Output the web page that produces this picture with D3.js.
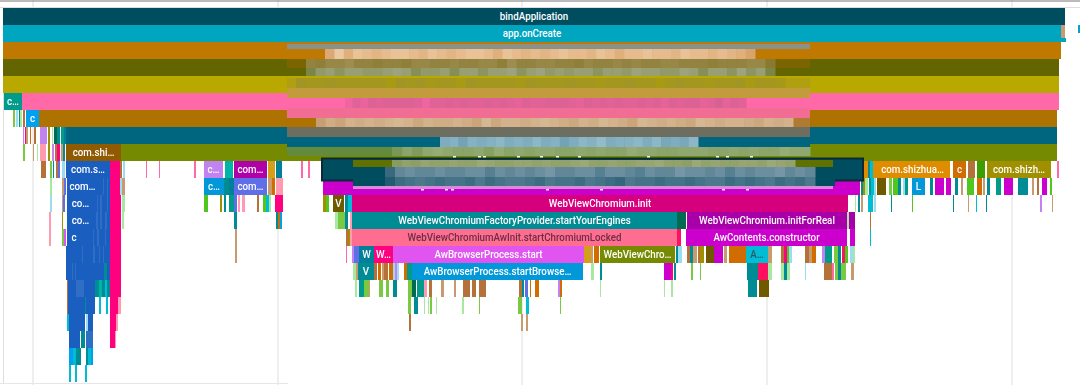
<!DOCTYPE html>
<html>
<head>
<meta charset="utf-8">
<script src="https://cdnjs.cloudflare.com/ajax/libs/d3/7.8.5/d3.min.js"></script>
<style>
html,body{margin:0;padding:0;background:#fff;overflow:hidden}
#chart{display:block;filter:blur(.45px)}
text{font-family:Roboto,sans-serif;font-size:11.5px;font-weight:500;fill:#fff;text-anchor:middle}
</style>
</head>
<body>
<svg id="chart" width="1080" height="385"></svg>
<script>
// trace time in ms on screen, [depth, start, duration, category, label]
var gridTicks = [33,278,522,767,1012];

var namedFrames = [
	[0,3,1062,"bind","bindApplication"],
	[1,3,1058,"create","app.onCreate"],
	[2,3,1058,"orange",""],
	[3,3,1056,"olive",""],
	[4,3,1056,"mustard",""],
	[5,4,18,"jade","c…"],
	[5,22,1037,"hotpink",""],
	[6,26,13,"sky","c"],
	[6,39,1018,"brown",""],
	[7,66,991,"petrol",""],
	[8,66,55,"umber","com.shi…"],
	[8,121,936,"moss",""],
	[9,66,44,"blue","com.s…"],
	[9,204,19,"lilac","c…"],
	[9,234,33,"plum","com…"],
	[9,875,75,"amber","com.shizhua…"],
	[9,953,13,"rust","c"],
	[9,987,64,"khaki","com.shizh…"],
	[10,67,31,"blue","com…"],
	[10,204,20,"azure","c…"],
	[10,234,33,"indigo","com…"],
	[10,323,537,"magenta",""],
	[10,912,13,"azure","L"],
	[11,67,27,"blue","co…"],
	[11,333,11,"bark","V"],
	[11,352,496,"ruby","WebViewChromium.init"],
	[12,67,27,"blue","co…"],
	[12,352,325,"sea","WebViewChromiumFactoryProvider.startYourEngines"],
	[12,687,160,"purple","WebViewChromium.initForReal"],
	[13,67,14,"blue","c"],
	[13,352,325,"salmon","WebViewChromiumAwInit.startChromiumLocked"],
	[13,686,161,"magenta","AwContents.constructor"],
	[14,359,15,"ocean","W"],
	[14,374,19,"rose","W…"],
	[14,393,191,"violet","AwBrowserProcess.start"],
	[14,600,75,"moss","WebViewChro…"],
	[14,746,22,"cyan","A…"],
	[15,358,16,"sea","V"],
	[15,412,171,"azure","AwBrowserProcess.startBrowse…"]
];

var leftSlices = [
	[6,13,2,"leaf"],[6,16,2,"ice"],[6,19,1,"sea"],[6,20,2,"mint"],[6,23,2,"tan"],
	[7,23,1,"lilac"],[7,25,1,"rose"],[7,26,2,"wheat"],[7,30,1,"rust"],[7,34,2,"tan"],[7,40,7,"lilac"],[7,48,2,"khaki"],[7,52,1,"mint"],[7,54,3,"pine"],[7,57,3,"sea"],[7,61,3,"jade"],[7,64,2,"ocean"],
	[8,23,2,"leaf"],[8,33,1,"wheat"],[8,37,1,"mint"],[8,40,6,"blush"],[8,48,2,"khaki"],[8,52,2,"lilac"],[8,55,2,"tan"],[8,57,3,"rose"],[8,61,2,"wheat"],[8,63,2,"sea"],
	[9,41,5,"tan"],[9,50,2,"leaf"],[9,53,1,"sea"],[9,56,2,"tan"],[9,58,2,"indigo"],[9,62,3,"ice"],
	[9,110,10,"rose"],[9,120,2,"tan"],[9,123,2,"ice"],[9,146,1,"hotpink"],[9,159,1,"hotpink"],[9,194,2,"hotpink"],
	[9,225,8,"teal"],[9,268,7,"gold"],[9,276,6,"ocean"],[9,301,2,"hotpink"],[9,308,2,"hotpink"],
	[10,50,2,"mint"],[10,62,2,"wheat"],[10,64,2,"indigo"],[10,98,12,"blue"],[10,103,1,"steel"],[10,107,1,"steel"],
	[10,110,10,"rose"],[10,120,2,"ice"],[10,122,3,"wheat"],[10,224,5,"sea"],[10,229,5,"ocean"],[10,268,4,"wheat"],[10,272,3,"rust"],[10,276,7,"blush"],
	[11,50,2,"ice"],[11,62,1,"wheat"],[11,63,2,"indigo"],[11,94,16,"blue"],[11,97,1,"steel"],[11,100,2,"steel"],[11,107,1,"steel"],
	[11,110,11,"rose"],[11,122,3,"mint"],[11,204,4,"grass"],[11,220,2,"khaki"],[11,224,2,"sea"],[11,229,5,"jade"],[11,234,3,"indigo"],[11,238,2,"blush"],[11,242,3,"blush"],[11,257,2,"tan"],[11,263,3,"grass"],[11,266,3,"cyan"],[11,269,2,"mint"],[11,275,8,"rose"],
	[12,49,2,"blush"],[12,62,1,"khaki"],[12,94,16,"blue"],[12,96,2,"steel"],[12,100,2,"steel"],[12,105,2,"steel"],
	[12,110,11,"rose"],[12,122,2,"mint"],[12,234,3,"sea"],[12,276,2,"sea"],[12,278,2,"rust"],[12,280,2,"sky"],
	[13,49,2,"blush"],[13,62,2,"leaf"],[13,64,2,"violet"],[13,81,29,"blue"],[13,93,1,"steel"],[13,97,2,"steel"],[13,105,1,"steel"],
	[13,110,11,"rose"],[13,235,2,"wheat"],
	[14,66,44,"blue"],[14,82,1,"steel"],[14,93,2,"steel"],[14,99,1,"steel"],[14,103,1,"steel"],[14,110,11,"rose"],[14,235,2,"wheat"],
	[15,66,44,"blue"],[15,72,1,"steel"],[15,75,1,"steel"],[15,104,3,"sea"],[15,110,11,"rose"],
	[16,67,1,"tan"],[16,68,27,"blue"],[16,76,8,"steel"],[16,95,4,"sea"],[16,99,3,"teal"],[16,102,3,"sea"],[16,105,2,"cyan"],[16,107,3,"sea"],[16,110,11,"rose"],
	[17,67,1,"tan"],[17,68,27,"blue"],[17,85,1,"sea"],[17,99,2,"cyan"],[17,106,2,"cyan"],[17,110,11,"rose"],[17,118,3,"blush"],
	[18,67,2,"cyan"],[18,69,16,"blue"],[18,86,2,"ice"],[18,88,5,"blue"],[18,110,6,"rose"],[18,116,2,"blush"],
	[19,69,11,"blue"],[19,81,4,"sea"],[19,86,7,"steel"],[19,110,5,"rose"],[19,115,1,"blush"],
	[20,69,4,"sky"],[20,73,3,"cyan"],[20,76,5,"sea"],[20,86,2,"sea"],[20,88,3,"cyan"],[20,91,2,"sky"],
	[21,69,2,"cyan"],[21,75,2,"cyan"],[21,85,2,"cyan"]
];

var middleSlices = [
	[11,323,3,"khaki"],[11,326,3,"grass"],[11,345,3,"sea"],[11,348,4,"cyan"],
	[12,335,3,"mint"],[12,338,7,"leaf"],[12,345,3,"sea"],[12,350,2,"blush"],[12,677,9,"pine"],[12,847,2,"mint"],[12,849,6,"purple"],
	[13,346,2,"tan"],[13,348,2,"khaki"],[13,350,2,"blush"],[13,677,4,"crimson"],[13,850,5,"magenta"],
	[14,346,1,"hotpink"],[14,352,2,"lilac"],[14,354,5,"indigo"],[14,584,7,"gold"],[14,591,2,"wheat"],[14,594,5,"rust"],[14,676,2,"sea"],[14,678,4,"ice"],
	[14,687,3,"tan"],[14,690,3,"sea"],[14,693,4,"wheat"],[14,698,2,"tan"],[14,700,4,"khaki"],[14,706,8,"bark"],[14,714,9,"magenta"],[14,724,3,"wheat"],[14,729,17,"rust"],[14,768,4,"wheat"],
	[14,781,3,"tan"],[14,784,3,"rose"],[14,787,2,"grass"],[14,789,3,"ice"],[14,805,4,"tan"],[14,809,3,"wheat"],[14,812,4,"rust"],[14,822,3,"lilac"],[14,825,7,"jade"],[14,834,4,"leaf"],[14,838,3,"sea"],[14,842,3,"crimson"],[14,845,3,"grass"],[14,850,3,"ice"],[14,853,2,"mint"],
	[15,353,3,"mint"],[15,356,2,"wheat"],[15,374,3,"tan"],[15,378,3,"rust"],[15,382,2,"wheat"],[15,384,4,"tan"],[15,389,4,"rust"],[15,393,2,"ice"],[15,395,2,"lilac"],[15,397,2,"ice"],[15,404,3,"rust"],[15,407,5,"jade"],[15,591,3,"mint"],[15,600,2,"sea"],[15,664,7,"magenta"],[15,671,2,"rose"],[15,674,2,"sea"],
	[15,691,2,"leaf"],[15,700,1,"leaf"],[15,747,11,"sea"],[15,758,10,"crimson"],[15,768,4,"mint"],[15,781,3,"mint"],[15,784,3,"sea"],[15,787,3,"mint"],[15,805,1,"ice"],[15,824,8,"tan"],[15,832,2,"hotpink"],[15,835,3,"leaf"],[15,838,3,"sea"],[15,841,5,"leaf"],[15,851,3,"wheat"],
	[16,355,2,"mint"],[16,359,5,"jade"],[16,364,5,"leaf"],[16,369,1,"wheat"],[16,379,4,"leaf"],[16,386,3,"leaf"],[16,393,4,"sea"],[16,408,4,"leaf"],[16,412,4,"pine"],[16,417,7,"jade"],[16,424,3,"blush"],[16,429,3,"tan"],[16,441,3,"wheat"],[16,454,2,"wheat"],[16,463,7,"tan"],[16,472,4,"tan"],[16,479,7,"tan"],[16,519,3,"tan"],[16,522,2,"sea"],[16,525,3,"indigo"],[16,530,1,"rust"],[16,535,4,"rust"],[16,558,2,"lilac"],[16,560,2,"rust"],[16,600,1,"mint"],[16,664,1,"mint"],[16,671,2,"mint"],[16,748,9,"sea"],[16,759,10,"bark"],
	[17,408,3,"leaf"],[17,414,4,"sea"],[17,424,1,"mint"],[17,428,1,"mint"],[17,430,2,"leaf"],[17,436,1,"mint"],[17,462,2,"mint"],[17,479,1,"leaf"],[17,518,4,"leaf"],[17,526,3,"cyan"],[17,560,1,"leaf"],
	[18,409,2,"tan"],[18,521,2,"wheat"],[18,526,2,"wheat"]
];

var rightSlices = [
	[1,1061,4,"wheat"],
	[9,864,4,"amber"],[9,868,2,"sea"],[9,870,3,"cyan"],[9,873,2,"amber"],[9,968,7,"tan"],[9,977,8,"lime"],[9,1057,2,"hotpink"],
	[10,861,2,"sea"],[10,863,2,"khaki"],[10,865,3,"mint"],[10,869,2,"jade"],[10,871,3,"cyan"],[10,874,2,"ice"],[10,877,9,"bark"],[10,889,3,"leaf"],[10,893,5,"grass"],[10,898,3,"sea"],[10,903,2,"ice"],[10,905,3,"jade"],[10,930,3,"sea"],[10,935,9,"magenta"],[10,946,5,"magenta"],[10,955,3,"sea"],[10,961,2,"wheat"],[10,967,7,"grass"],[10,977,5,"rust"],[10,983,2,"wheat"],[10,987,3,"sea"],[10,996,5,"jade"],[10,1004,9,"magenta"],[10,1018,10,"sea"],[10,1032,2,"wheat"],[10,1037,2,"tan"],[10,1042,5,"magenta"],[10,1050,2,"grass"],
	[11,855,1,"mint"],[11,858,2,"sea"],[11,861,2,"wheat"],[11,868,5,"cyan"],[11,874,2,"ice"],[11,891,1,"sea"],[11,912,1,"grass"],[11,953,1,"sea"],[11,968,1,"wheat"],[11,976,1,"cyan"],[11,986,1,"sea"],[11,1040,2,"lilac"],[11,1052,1,"wheat"],
	[12,870,1,"tan"],[13,870,1,"cyan"]
];

// censored strips, one tone digit per mosaic cell (0 dark end, 9 light end)
var peachTones = [4,9,5,8,7,6,7,8,8,7,6,8,7,6,7,8,8,7,5,8,7,6,7,6,7,8,7,7,6,8,7,5,7,7,8,7,7,6,8,7,7,6,7,6,5,3];
var brownOliveTones = [3,2,4,4,5,3,3,2,3,3,2,4,4,3,3,4,3,3,4,4,2,5,3,3,4,4,3,3,2,4,3,3,4,3,4,3,3,4,4,3,3,3,2,3,3,3,4,4,1];
var sageTones = [1,5,6,4,6,6,5,5,6,7,6,3,5,5,6,3,6,6,4,6,6,7,4,6,7,5,6,5,6,6,4,6,6,5,7,6,6,5,5,7,6,3,6,6,4,7,4,6,1];
var mustardTones = [6,5,5,6,5,5,5,5,5,3,6,5,6,4,5,5,3,6,5,5,5,5,4,6,5,5,5,6,5,5,4,5,5,6,5,5,3,5,6,5,5,4,5,5,6,3,5,5,4];
var roseTones = [3,6,4,7,6,7,7,7,7,6,3,6,6,7,6,7,6,6,7,6,7,6,5,7,6,6,7,7,7,6,5,7,6,7,6,7,6,6,7,6,7,5,7,6,7,7,5,6,8,5,7,6];
var tanTones = [3,6,4,7,6,7,6,7,8,7,5,7,6,6,7,6,4,8,5,7,7,6,7,8,7,6,5,7,6,8,7,6,4,8,7,6,7,6,5,8,7,6,7,7,6,5,7,6,7];
var blueTones = [5,6,3,6,5,6,7,5,6,5,7,5,6,3,5,7,6,8,5,6,6,7,5,7,4,5,4,7];
var greenTones = [2,5,3,6,7,6,5,5,6,4,7,5,6,5,6,6,5,5,6,5,6,5,5,7,6,6,5,5,6,6,6,5,5,6,5,6,5,5,7,6,6];
var capTones = [3,5,4,6,5,5,6,5,5,7,6,5,5,6,6,5,6,5,5,6,7,5,5,6,5,5,6,6,7,5,5,4,7,5,6,5,5,6,6,5,7,6,5];
var slateTones = [1,5,6,5,5,6,5,5,6,6,4,6,5,6,5,6,7,5,5,6,6,4,6,6,5,4,6,5,5,7,6,6,5,6,4,6,5,6,6,7,5,6,5];
var deepTones = [1,4,5,6,5,4,5,5,4,6,4,5,6,6,5,4,6,5,5,4,6,5,4,3,6,5,5,4,5,5,4,5,6,6,4,5,4,5,6,4,5,4,6];
var inkTickStarts = [453,478,483,517,540,556,578,647,716,726,750];
var magentaTickStarts = [421,445,451,546,600,722,746];

var categories = ["bind","create","orange","olive","mustard","hotpink","brown","petrol","moss","jade","sky","umber","blue","rose","lilac","teal","plum","gold","ocean","amber","rust","tan","lime","khaki","azure","indigo","magenta","ruby","sea","salmon","violet","purple","pine","bark","cyan","leaf","mint","ice","blush","steel","crimson","wheat","grass"];
var color = d3.scaleOrdinal(categories,["#004d5f","#00a5bf","#bf7800","#636600","#b8a800","#ff69a8","#ae7200","#006680","#758a00","#009b8a","#00a0f0","#8f5a00","#1a5fc0","#ff007f","#c183f0","#00b5a8","#b000a8","#d4a017","#007f99","#df8c00","#d06c00","#b5713a","#3c9f00","#a09000","#0098d8","#5f6fe8","#cc00cc","#d6007f","#008c95","#ff6e91","#e055f0","#a800a8","#006b50","#6f5a00","#00bcd4","#7ac943","#a8e8a0","#9adcf0","#ff9ab0","#2f6ec4","#ff1060","#c89a70","#4fc71f"]);

var svg = d3.select("#chart");
var x = d3.scaleLinear().domain([0,1080]).range([0,1080]);
var rowH = 17;
var y = d3.scaleLinear().domain([0,22]).range([8,8+22*rowH]);

// grid and ruler
svg.append("g").selectAll("line").data(gridTicks).join("line")
	.attr("x1",x).attr("x2",x).attr("y1",0).attr("y2",385)
	.attr("stroke","#dcdee2");
svg.append("line").attr("x1",3.5).attr("x2",3.5).attr("y1",8).attr("y2",383).attr("stroke","#dcdee2");
svg.append("line").attr("x1",0).attr("x2",1080).attr("y1",1).attr("y2",1).attr("stroke","#777");
svg.append("line").attr("x1",0).attr("x2",1080).attr("y1",7.5).attr("y2",7.5).attr("stroke","#dcdee2");
svg.append("line").attr("x1",0).attr("x2",288).attr("y1",383.5).attr("y2",383.5).attr("stroke","#e6e6e8");

function drawSlices(rows){
	svg.append("g").selectAll("rect").data(rows).join("rect")
		.attr("x",function(d){return x(d[1])})
		.attr("y",function(d){return y(d[0])})
		.attr("width",function(d){return x(d[1]+d[2])-x(d[1])})
		.attr("height",rowH)
		.attr("fill",function(d){return color(d[3])});
}
drawSlices(namedFrames);
drawSlices(leftSlices);
drawSlices(middleSlices);
drawSlices(rightSlices);

// shoulder of app.onCreate and the next thread peeking in at the right edge
svg.append("rect").attr("x",1061).attr("y",38).attr("width",5).attr("height",4).attr("fill","#00a5bf");
svg.append("rect").attr("x",1078).attr("y",25).attr("width",2).attr("height",8).attr("fill","#00a5bf");

// selected frame outline
svg.append("rect").attr("x",322).attr("y",y(9)-2.5).attr("width",541).attr("height",22)
	.attr("fill","#004d5f").attr("stroke","#0b2a35").attr("stroke-width",2);

// flat parts of the censored strips
var flatBands = [
	[287,810,44,49,"#8b9188"],[287,325,49,59,"#bf7800"],[755,810,49,59,"#bf7800"],
	[287,810,59,68,"#7a6500"],[287,810,68,76,"#636600"],[287,810,78,88,"#b09f10"],[287,810,88,98,"#c29c3c"],
	[287,810,98,108,"#ff69a8"],[287,810,108,118,"#f26d93"],[287,316,118,127,"#ae7200"],[793,810,118,127,"#b07a30"],
	[287,810,127,137,"#6e6e60"],[287,810,137,147,"#006680"],[287,810,147,156,"#648a3c"],
	[353,833,160,167,"#5f7200"],[353,835,167,186,"#004d5f"],[353,833,186,189,"#d78ad8"]
];
svg.append("g").selectAll("rect").data(flatBands).join("rect")
	.attr("x",function(d){return d[0]}).attr("y",function(d){return d[2]})
	.attr("width",function(d){return d[1]-d[0]}).attr("height",function(d){return d[3]-d[2]})
	.attr("fill",function(d){return d[4]});

var mosaicBands = [
	[peachTones,325,755,49,59,"#cf9050","#ecc8a0"],
	[brownOliveTones,306,775,59,68,"#857528","#b0a070"],
	[sageTones,306,775,68,76,"#76803a","#a8ae90"],
	[mustardTones,296,785,78,88,"#b0a000","#9a8f38"],
	[roseTones,345,746,98,108,"#ff66a8","#d2608f"],
	[tanTones,316,793,118,127,"#c09060","#d8bc98"],
	[blueTones,440,698,137,147,"#5f94ac","#9ac0ce"],
	[greenTones,392,810,147,156,"#6e9048","#a0b484"],
	[capTones,392,795,160,167,"#7a9050","#a4b084"],
	[slateTones,385,815,167,177,"#2e6278","#8aa4b4"],
	[deepTones,385,815,177,186,"#1a566c","#688a9c"]
];
mosaicBands.forEach(function(b){
	var tone = d3.interpolateRgb(b[5],b[6]);
	var cell = (b[2]-b[1])/b[0].length;
	svg.append("g").selectAll("rect").data(b[0]).join("rect")
		.attr("x",function(d,i){return b[1]+i*cell})
		.attr("y",b[3])
		.attr("width",cell+.5)
		.attr("height",b[4]-b[3])
		.attr("fill",function(d){return tone(d/9)});
});

// bits of the hidden text that stick out of the strips
svg.append("g").selectAll("rect").data(inkTickStarts).join("rect")
	.attr("x",x).attr("y",156).attr("width",3).attr("height",1.5).attr("fill","#f4f4e8");
svg.append("g").selectAll("rect").data(magentaTickStarts).join("rect")
	.attr("x",x).attr("y",189).attr("width",3).attr("height",1.5).attr("fill","#f8e8f8");

// labels, the screenshot is squeezed horizontally so the glyphs are too
svg.append("g").selectAll("text").data(namedFrames.filter(function(d){return d[4]})).join("text")
	.attr("transform",function(d){return "translate("+x(d[1]+d[2]/2)+","+(y(d[0])+12)+") scale(.85,1)"})
	.style("fill",function(d){
		if(d[3]=="salmon") return "#6a2f45";
		if(d[3]=="cyan") return "#2c5a66";
		return null;
	})
	.text(function(d){return d[4]});
</script>
</body>
</html>
